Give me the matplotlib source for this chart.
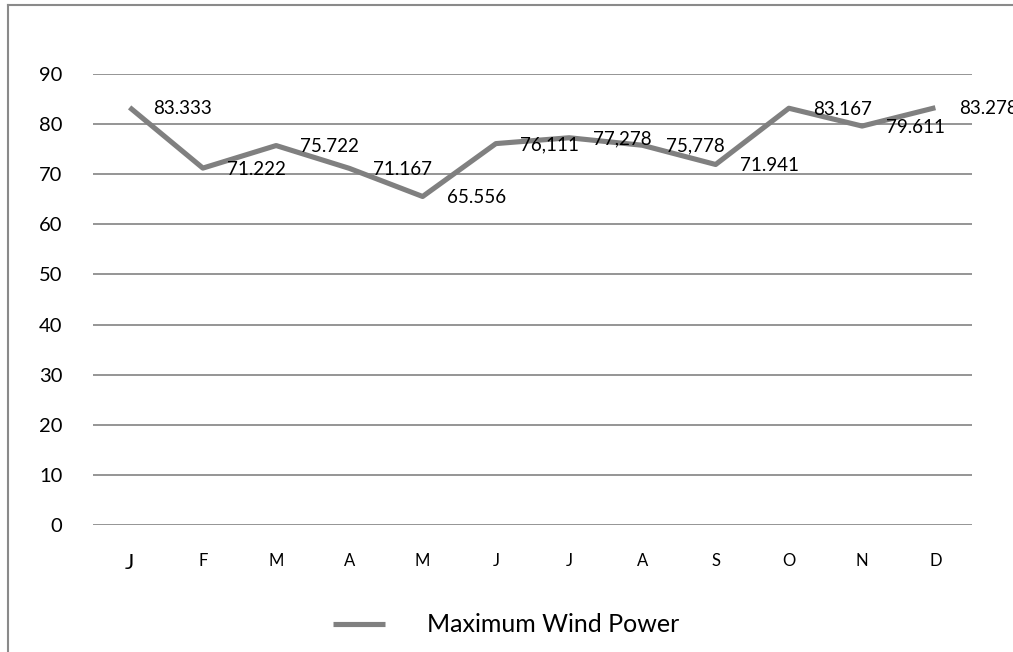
import matplotlib
matplotlib.use("Agg")
import matplotlib.pyplot as plt
from matplotlib.lines import Line2D

months = ["J", "F", "M", "A", "M", "J", "J", "A", "S", "O", "N", "D"]
max_wind_power = [83.333, 71.222, 75.722, 71.167, 65.556, 76.111,
                  77.278, 75.778, 71.941, 83.167, 79.611, 83.278]
value_labels = ["83.333", "71.222", "75.722", "71.167", "65.556", "76,111",
                "77,278", "75,778", "71.941", "83.167", "79.611", "83.278"]
y_ticks = [0, 10, 20, 30, 40, 50, 60, 70, 80, 90]
series_name = "Maximum Wind Power"

W, H = 1013, 652
plt.rcParams["font.family"] = ["Lato", "DejaVu Sans"]

fig = plt.figure(figsize=(W / 100, H / 100), dpi=100)
fig.patch.set_facecolor("white")

# plot area in pixel terms
left, right, top, bottom = 93, 972, 74, 525
ax = fig.add_axes([left / W, (H - bottom) / H, (right - left) / W, (bottom - top) / H])

line_color = "#808080"
grid_color = "#8c8c8c"

x = list(range(len(months)))
ax.plot(x, max_wind_power, color=line_color, lw=3.7, solid_joinstyle="round",
        solid_capstyle="butt", zorder=3, clip_on=False)

for xi, yi, lab in zip(x, max_wind_power, value_labels):
    ax.annotate(lab, (xi, yi), xytext=(24, -1), textcoords="offset pixels",
                ha="left", va="center", fontsize=13.5, color="#000000",
                annotation_clip=False, zorder=4)

ax.set_xlim(-0.5, len(months) - 0.5)
ax.set_ylim(0, 90)
ax.set_yticks(y_ticks)
ax.set_yticklabels([str(v) for v in y_ticks])
ax.set_xticks(x)
ax.set_xticklabels(months)

for s in ax.spines.values():
    s.set_visible(False)
ax.grid(axis="y", color=grid_color, lw=1.3)
ax.set_axisbelow(True)
ax.tick_params(axis="both", length=0)
ax.tick_params(axis="y", pad=22, labelsize=14.5)
ax.tick_params(axis="x", pad=20, labelsize=12)
ax.get_xticklabels()[0].set_fontsize(16)

# legend below the plot
fs_leg = 18
em = fs_leg * 100 / 72
handle = Line2D([], [], color=line_color, lw=3.7, solid_capstyle="butt")
fig.legend([handle], [series_name], loc="center left",
           bbox_to_anchor=(333 / W, (H - 625) / H), frameon=False,
           fontsize=fs_leg, handlelength=52 / em, handletextpad=42 / em,
           borderpad=0, borderaxespad=0)

# outer chart border (left and top edges)
border_color = "#8a8a8a"
fig.add_artist(Line2D([8 / W, 8 / W], [0, (H - 5) / H], color=border_color,
                      lw=1.5, transform=fig.transFigure))
fig.add_artist(Line2D([8 / W, 1], [(H - 5) / H, (H - 5) / H], color=border_color,
                      lw=1.5, transform=fig.transFigure))

fig.savefig("out.png", dpi=100)
